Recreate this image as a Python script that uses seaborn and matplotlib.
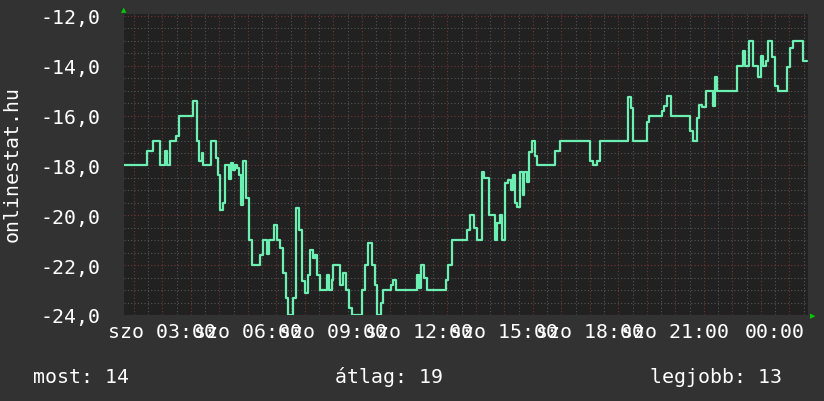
import numpy as np
import pandas as pd
import seaborn as sns
import matplotlib.pyplot as plt
from matplotlib.ticker import MultipleLocator
from matplotlib.transforms import ScaledTranslation

# --- DATA (minutes since midnight, value at each step) ---
minutes = [99, 147, 160, 175, 185, 190, 196, 208, 215, 244, 253, 257, 263, 265, 282,
           293, 297, 301, 307, 312, 320, 324, 328, 333, 337, 341, 345, 350, 356, 362,
           368, 385, 392, 400, 404, 415, 421, 427, 434, 440, 444, 455, 461, 467, 474,
           480, 486, 491, 497, 501, 505, 512, 526, 531, 537, 539, 554, 560, 566, 573,
           579, 600, 606, 613, 621, 627, 632, 640, 644, 661, 665, 672, 716, 720, 724,
           731, 737, 777, 781, 790, 821, 827, 836, 842, 853, 857, 867, 880, 884, 891,
           895, 901, 907, 914, 918, 922, 926, 933, 939, 941, 947, 952, 958, 964, 968,
           1006, 1017, 1080, 1086, 1095, 1101, 1160, 1166, 1171, 1200, 1204, 1232, 1236,
           1242, 1251, 1291, 1297, 1305, 1310, 1316, 1324, 1339, 1343, 1347, 1389, 1402,
           1406, 1415, 1423, 1434, 1440, 1444, 1451, 1455, 1463, 1470, 1476, 1495, 1501,
           1507, 1528, 1537]
values = [-18, -17.4, -17.0, -18, -17.4, -18, -17, -16.8, -16.0, -15.4, -17, -17.8, -17.5, -18, -17,
          -17.7, -18.4, -19.8, -19.5, -18, -18.55, -17.9, -18.2, -18, -18.1, -18.4, -19.6, -17.8, -19.3, -21,
          -22, -21.6, -21, -21.55, -21, -20.4, -21, -21.3, -22.3, -23.3, -24, -23.3, -19.7, -20.6, -22.65,
          -23.1, -22.4, -21.4, -21.7, -21.6, -22.4, -23, -22.4, -23, -22.6, -22, -22.8, -22.3, -23, -23.7,
          -24, -23, -22, -21.1, -22, -22.8, -24, -23.5, -23, -22.8, -22.6, -23, -22.4, -22.9, -22,
          -22.5, -23, -22.6, -22, -21, -20.6, -20, -20.5, -21, -18.25, -18.5, -20, -21, -20.3, -20,
          -21, -18.7, -18.6, -19, -18.4, -19.5, -19.65, -18.25, -19.2, -18.25, -18.65, -17.45, -17, -17.6, -18,
          -17.4, -17, -17.8, -18, -17.8, -17, -15.25, -15.7, -17, -16.25, -16, -15.8, -15.6,
          -15.2, -16, -16.6, -17, -16.1, -15.56, -15.65, -15.0, -15.6, -14.45, -15, -14, -13.4,
          -14, -13, -14, -14.45, -13.6, -14, -13.8, -13, -13.65, -14.8, -15, -14.05, -13.3,
          -13, -13.8, -13.8]

y_ticks = [-24, -22, -20, -18, -16, -14, -12]
y_tick_labels = ["-24,0", "-22,0", "-20,0", "-18,0", "-16,0", "-14,0", "-12,0"]
x_ticks = [3, 6, 9, 12, 15, 18, 21, 24]
x_tick_labels = ["szo 03:00", "szo 06:00", "szo 09:00", "szo 12:00",
                 "szo 15:00", "szo 18:00", "szo 21:00", "00:00"]
summary = ["most: 14", "átlag: 19", "legjobb: 13"]

df = pd.DataFrame({"ora": np.array(minutes) / 60.0, "ertek": values})

# --- STYLE ---
sns.set_style("dark")
plt.rcParams["font.family"] = ["DejaVu Sans Mono", "DejaVu Sans"]
bg = "#323232"
plot_bg = "#212121"

fig = plt.figure(figsize=(8.24, 4.02), dpi=100, facecolor=bg)
ax = fig.add_axes([124 / 824, 86 / 402, 684 / 824, 301 / 402], facecolor=plot_bg)

sns.lineplot(data=df, x="ora", y="ertek", ax=ax, color="#6cf0b2", linewidth=1.6,
             drawstyle="steps-post", estimator=None, sort=False)
ax.set_xlabel("")
ax.set_ylabel("")

ax.set_xlim(1.65, 25.65)
ax.set_ylim(-24, -11.92)

# gridlines: red every hour / 2 units, gray dotted in between
ax.xaxis.set_major_locator(MultipleLocator(1))
ax.xaxis.set_minor_locator(MultipleLocator(0.5))
ax.yaxis.set_major_locator(MultipleLocator(2))
ax.yaxis.set_minor_locator(MultipleLocator(0.5))
ax.grid(which="minor", color="#555555", linestyle=(0, (1, 2)), linewidth=0.8)
ax.grid(which="major", color="#743636", linestyle=(0, (1, 2)), linewidth=0.8)
ax.set_axisbelow(True)

# labels drawn as secondary axes so the hourly grid stays
ax.set_xticklabels([])
ax.set_yticklabels([])
ax.tick_params(which="both", length=0)
for s in ax.spines.values():
    s.set_visible(False)

lx = ax.secondary_xaxis("bottom")
lx.set_xticks(x_ticks)
lx.set_xticklabels(x_tick_labels)
lx.tick_params(length=0, pad=5, labelsize=14.3, colors="white")
lx.spines["bottom"].set_visible(False)
# last label sits a bit to the right in the original
last = lx.get_xticklabels()[-1]
last.set_transform(last.get_transform() + ScaledTranslation(14 / 100, 0, fig.dpi_scale_trans))

ly = ax.secondary_yaxis("left")
ly.set_yticks(y_ticks)
ly.set_yticklabels(y_tick_labels)
ly.tick_params(length=0, pad=17, labelsize=14.3, colors="white")
ly.spines["left"].set_visible(False)

fig.text(12 / 824, 1 - 164 / 402, "onlinestat.hu", rotation=90, ha="center", va="center",
         color="white", fontsize=14.3)

# green arrows of the axes
fig.text(124 / 824, 1 - 10 / 402, "▲", color="#00cc00", fontsize=5, ha="center", va="center",
         family="DejaVu Sans")
fig.text(813 / 824, 1 - 316 / 402, "▶", color="#00cc00", fontsize=5, ha="center", va="center",
         family="DejaVu Sans")

# summary line
for xpos, txt in zip([33, 335, 650], summary):
    fig.text(xpos / 824, 1 - 383 / 402, txt, ha="left", va="baseline", color="white",
             fontsize=14.3)

plt.savefig("out.png", dpi=100, facecolor=bg)
plt.close()
